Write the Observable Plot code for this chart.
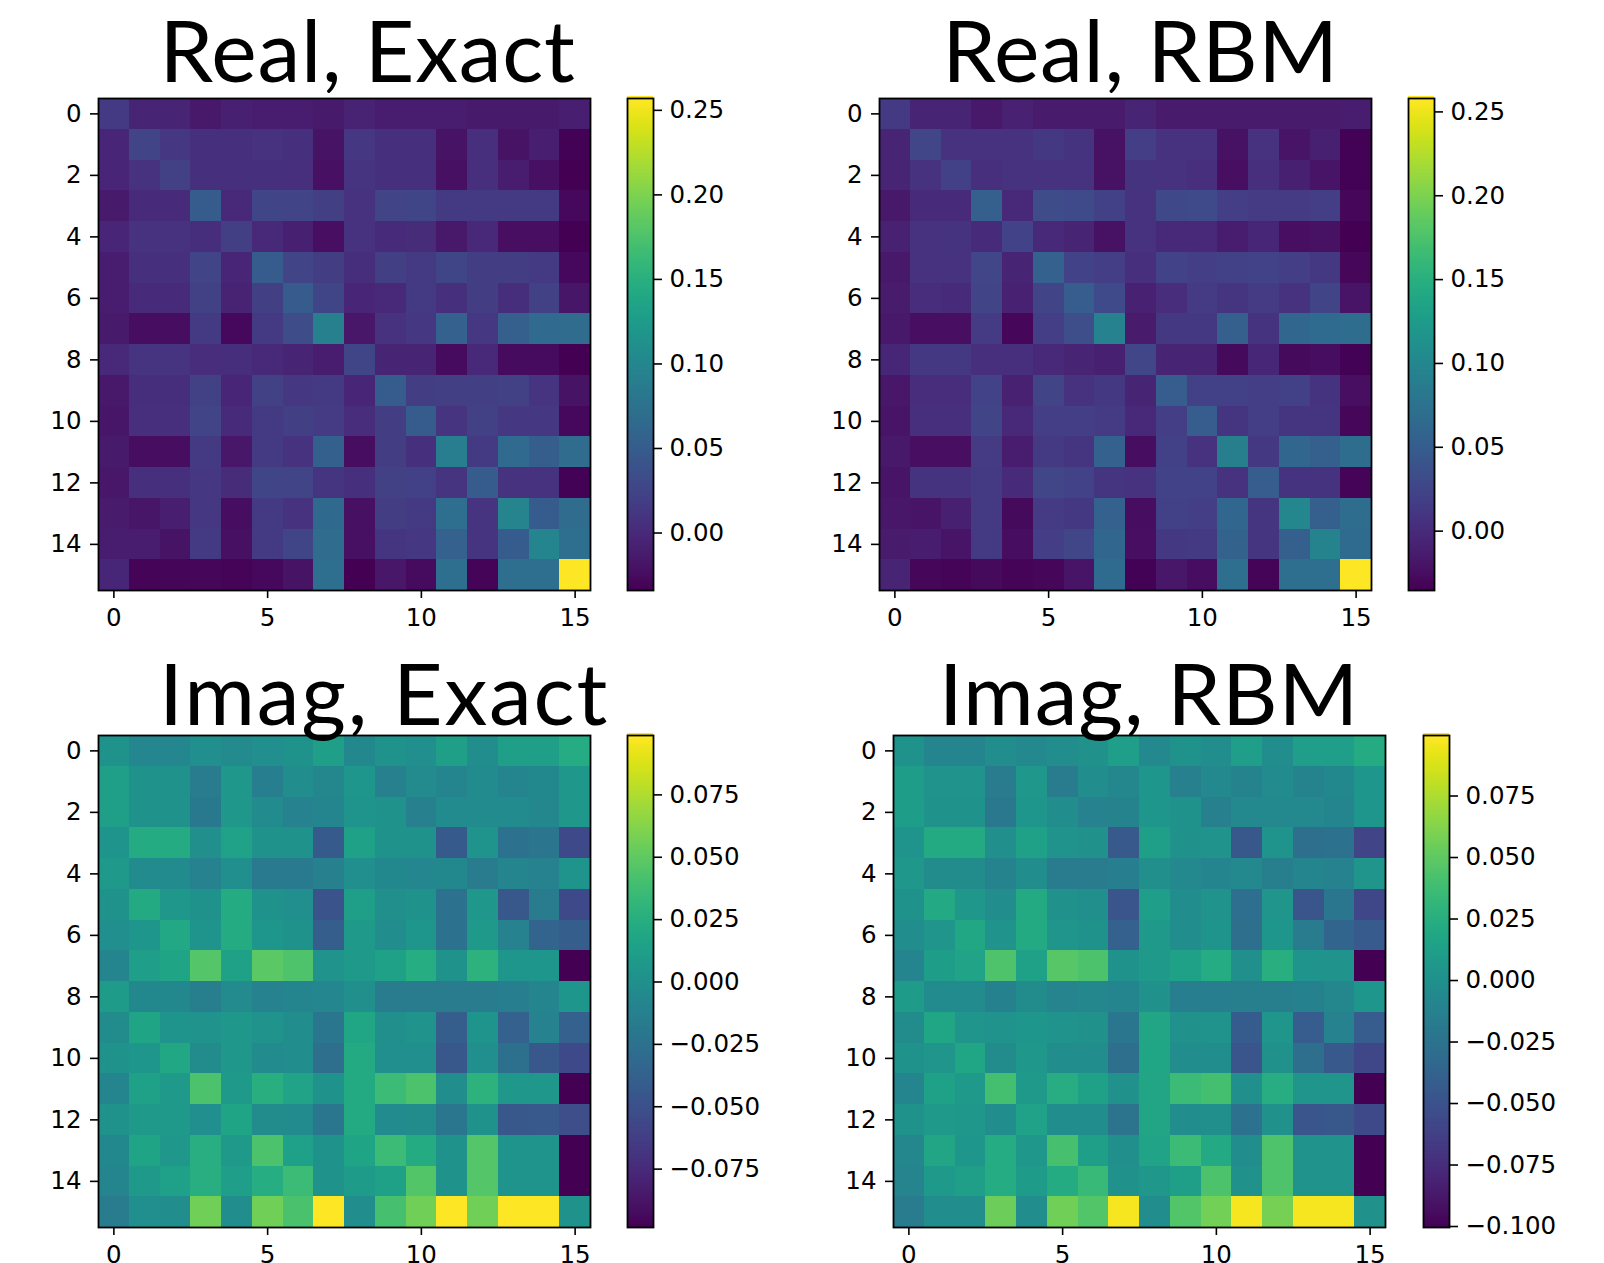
<!DOCTYPE html>
<html><head><meta charset="utf-8">
<script src="https://cdn.jsdelivr.net/npm/d3@7"></script>
<script src="https://cdn.jsdelivr.net/npm/@observablehq/plot@0.6"></script>
<style>
html,body{margin:0;padding:0;background:#fff}
#page{position:relative;width:1604px;height:1263px;overflow:hidden;background:#fff}
.p{position:absolute}
.p svg{display:block;background:none;overflow:visible}
.t{position:absolute;left:0;top:0;width:1604px;overflow:hidden;pointer-events:none;z-index:5}
.t span{position:absolute;transform:translateX(-50%);font-family:Lato,sans-serif;font-weight:400;color:#000;white-space:nowrap;line-height:100px}
</style></head><body><div id="page"></div>
<script>
const titles = ["Real, Exact","Real, RBM","Imag, Exact","Imag, RBM"];
const xTicks = [0,5,10,15];
const yTicks = [0,2,4,6,8,10,12,14];
const realTicks = [0,0.05,0.10,0.15,0.20,0.25];
const imagTicksExact = [-0.075,-0.05,-0.025,0,0.025,0.05,0.075];
const imagTicksRbm = [-0.1,-0.075,-0.05,-0.025,0,0.025,0.05,0.075];
const realExactDomain = [-0.034,0.257];
const realRbmDomain = [-0.0354,0.258];
const imagExactDomain = [-0.0984,0.0988];
const imagRbmDomain = [-0.1004,0.0996];

const realExact = [
[.015,-.005,-.005,-.015,-.008,-.012,-.012,-.014,-.006,-.012,-.012,-.012,-.014,-.014,-.014,-.010],
[-.004,.025,.012,.006,.006,.008,.006,-.020,.012,.006,.006,-.020,.005,-.020,-.010,-.032],
[-.004,.008,.022,.006,.006,.006,.005,-.022,.010,.006,.006,-.022,.005,-.012,-.022,-.033],
[-.014,.001,.001,.050,.000,.026,.024,.020,.008,.024,.026,.016,.016,.016,.016,-.028],
[-.004,.008,.008,.004,.020,-.002,-.008,-.023,.008,.001,.002,-.015,.000,-.023,-.023,-.034],
[-.012,.006,.006,.024,-.004,.050,.024,.018,.004,.020,.014,.026,.018,.018,.016,-.028],
[-.011,.001,.001,.022,-.006,.020,.048,.026,-.004,-.001,.016,.006,.018,.004,.022,-.018],
[-.014,-.024,-.024,.014,-.028,.014,.032,.092,-.016,.008,.012,.055,.012,.053,.065,.068],
[-.002,.010,.010,.003,.004,-.001,-.005,-.012,.026,-.005,-.005,-.026,-.002,-.026,-.026,-.034],
[-.015,.004,.004,.022,-.004,.022,.012,.014,-.004,.050,.018,.020,.020,.022,.010,-.020],
[-.018,.005,.005,.024,.001,.016,.020,.017,.003,.018,.050,.010,.022,.012,.012,-.028],
[-.014,-.024,-.024,.014,-.016,.014,.008,.054,-.024,.018,.006,.088,.014,.065,.052,.068],
[-.016,.006,.006,.012,.002,.026,.024,.011,.006,.022,.021,.010,.050,.008,.008,-.032],
[-.013,-.018,-.010,.012,-.024,.016,.008,.064,-.022,.018,.014,.070,.010,.097,.050,.068],
[-.011,-.012,-.020,.014,-.022,.015,.026,.068,-.022,.011,.012,.055,.010,.050,.098,.070],
[-.003,-.031,-.030,-.029,-.031,-.028,-.020,.070,-.033,-.016,-.026,.070,-.031,.070,.070,.257]
];
const realRbm = [
[.014,-.006,-.006,-.016,-.008,-.014,-.014,-.014,-.006,-.014,-.014,-.014,-.014,-.014,-.014,-.012],
[-.006,.026,.006,.006,.006,.012,.008,-.022,.018,.006,.006,-.022,.006,-.020,-.010,-.034],
[-.006,.006,.020,.004,.006,.006,.006,-.022,.008,.006,.004,-.024,.004,-.010,-.020,-.034],
[-.016,.000,.000,.052,-.002,.032,.030,.020,.006,.028,.030,.018,.016,.016,.018,-.030],
[-.008,.006,.008,.000,.022,-.002,-.006,-.022,.006,-.002,-.002,-.012,-.004,-.024,-.022,-.035],
[-.017,.006,.006,.026,-.006,.054,.022,.018,.004,.022,.018,.020,.022,.018,.012,-.030],
[-.014,.002,.000,.024,-.008,.024,.050,.030,-.008,.002,.016,.010,.016,.006,.024,-.020],
[-.016,-.024,-.024,.016,-.030,.018,.034,.094,-.014,.012,.012,.052,.008,.062,.066,.068],
[-.004,.012,.012,.004,.004,-.002,-.006,-.010,.026,-.006,-.006,-.028,-.004,-.028,-.026,-.034],
[-.018,.002,.002,.022,-.008,.024,.006,.012,-.006,.050,.020,.020,.018,.020,.008,-.024],
[-.020,.004,.004,.024,-.002,.018,.018,.016,-.002,.018,.050,.010,.018,.010,.010,-.030],
[-.016,-.024,-.024,.016,-.012,.014,.010,.054,-.026,.020,.006,.090,.012,.060,.052,.068],
[-.020,.008,.008,.014,.000,.026,.022,.010,.006,.022,.022,.006,.050,.008,.008,-.032],
[-.018,-.020,-.010,.014,-.028,.016,.012,.054,-.026,.020,.018,.062,.010,.100,.052,.068],
[-.014,-.012,-.020,.014,-.026,.018,.026,.062,-.024,.012,.014,.056,.010,.052,.096,.066],
[-.006,-.030,-.032,-.028,-.032,-.030,-.020,.066,-.034,-.018,-.026,.070,-.032,.070,.070,.258]
];
const imagExact = [
[.002,-.008,-.008,-.001,-.005,-.001,.001,.012,-.006,.002,-.001,.012,-.002,.012,.012,.023],
[.012,.002,.002,-.017,.006,-.015,-.002,-.007,.005,-.013,-.005,-.009,-.004,-.009,-.006,.006],
[.012,.001,.001,-.019,.006,-.004,-.011,-.009,.004,.001,-.013,-.004,-.004,-.004,-.007,.006],
[.004,.022,.022,.000,.015,.002,.001,-.043,.014,.001,.001,-.043,.004,-.025,-.022,-.055],
[.008,-.004,-.004,-.012,-.001,-.018,-.018,-.013,-.001,-.006,-.008,-.006,-.017,-.009,-.011,.004],
[.002,.021,.007,.001,.022,.001,-.001,-.048,.012,.000,.001,-.024,.006,-.045,-.017,-.055],
[-.001,.005,.020,.004,.022,.005,.001,-.040,.008,-.002,.005,-.024,.008,-.012,-.036,-.040],
[-.009,.011,.017,.046,.014,.048,.044,.003,.008,.014,.024,.001,.028,.005,.005,-.098],
[.010,-.006,-.006,-.014,-.005,-.011,-.009,-.008,.000,-.017,-.017,-.017,-.017,-.015,-.009,.005],
[-.003,.017,.004,.003,.007,.003,-.002,-.021,.018,.000,.003,-.040,.004,-.038,-.012,-.038],
[.001,.005,.019,-.003,.007,-.004,-.002,-.027,.021,-.001,-.001,-.045,-.001,-.026,-.045,-.055],
[-.009,.014,.008,.043,.008,.026,.016,.001,.021,.036,.043,-.002,.028,.006,.006,-.098],
[.002,.008,.008,-.001,.017,-.003,-.004,-.021,.021,-.004,-.003,-.021,.001,-.045,-.044,-.052],
[-.006,.017,.007,.025,.008,.043,.013,.001,.017,.036,.022,.001,.046,.004,.004,-.098],
[-.009,.008,.013,.025,.011,.024,.036,.001,.010,.014,.045,.001,.046,.004,.004,-.098],
[-.017,-.001,-.002,.056,-.002,.056,.042,.099,-.002,.041,.056,.099,.056,.099,.099,.002]
];
const imagRbm = [
[.001,-.009,-.009,-.003,-.006,-.002,.000,.011,-.006,.001,-.002,.011,-.003,.011,.011,.022],
[.010,.002,.002,-.018,.006,-.017,-.003,-.008,.005,-.014,-.006,-.011,-.005,-.011,-.007,.005],
[.010,.001,.001,-.020,.005,-.003,-.012,-.011,.005,.001,-.014,-.006,-.006,-.006,-.009,.005],
[.003,.021,.021,-.001,.013,.002,.000,-.045,.012,.000,.002,-.046,.003,-.028,-.025,-.060],
[.006,-.004,-.004,-.011,-.002,-.018,-.018,-.016,-.001,-.006,-.009,-.006,-.015,-.009,-.012,.004],
[.001,.020,.006,-.002,.021,.000,-.001,-.048,.011,-.002,.002,-.029,.004,-.048,-.022,-.058],
[-.002,.004,.019,.002,.021,.004,.001,-.039,.008,-.002,.003,-.028,.005,-.017,-.036,-.044],
[-.009,.010,.016,.044,.014,.047,.043,.001,.007,.013,.023,-.001,.026,.003,.002,-.100],
[.009,-.005,-.005,-.013,-.004,-.010,-.008,-.009,.000,-.016,-.016,-.015,-.015,-.013,-.008,.005],
[-.004,.018,.004,.002,.005,.002,.000,-.022,.017,.000,.002,-.043,.004,-.042,-.012,-.042],
[.001,.004,.018,-.004,.006,-.003,-.002,-.028,.018,-.003,-.002,-.048,.000,-.028,-.045,-.058],
[-.009,.014,.007,.040,.007,.024,.014,.000,.017,.036,.040,-.001,.024,.004,.004,-.100],
[.001,.007,.006,-.003,.015,-.002,-.002,-.024,.017,-.002,-.001,-.026,.000,-.048,-.046,-.056],
[-.008,.017,.005,.023,.006,.041,.012,-.001,.016,.036,.020,-.002,.044,.002,.002,-.100],
[-.010,.007,.012,.023,.009,.022,.034,.000,.006,.012,.043,.000,.044,.002,.002,-.100],
[-.018,-.002,-.002,.055,-.003,.056,.045,.097,-.002,.045,.057,.097,.058,.097,.097,.000]
];

const page = document.getElementById("page");
const fontSize = 24.5;
const SIZE = 492;
const ML = 70, MT = 14, MB = 36;

function cells(m){
  const out = [];
  m.forEach((row,i)=>row.forEach((v,j)=>out.push({row:i,col:j,value:v})));
  return out;
}
function place(el,left,top){
  const d = document.createElement("div");
  d.className = "p";
  d.style.left = left+"px"; d.style.top = top+"px";
  d.appendChild(el); page.appendChild(d);
}
function heat(m,domain,x0,y0){
  const el = Plot.plot({
    width: ML+SIZE+12, height: MT+SIZE+MB,
    marginLeft: ML, marginRight: 12, marginTop: MT, marginBottom: MB,
    style:{fontFamily:"DejaVu Sans",fontSize:fontSize+"px",color:"#000",background:"none"},
    x:{type:"band",domain:d3.range(16),padding:0,round:false,axis:null},
    y:{type:"band",domain:d3.range(16),padding:0,round:false,axis:null},
    color:{type:"linear",scheme:"viridis",domain},
    marks:[
      Plot.cell(cells(m),{x:"col",y:"row",fill:"value",inset:0,shapeRendering:"crispEdges"}),
      Plot.axisX({ticks:xTicks,tickFormat:d=>d,tickSize:8,tickPadding:10,fontSize,stroke:"#000",strokeWidth:1.6,label:null,anchor:"bottom"}),
      Plot.axisY({ticks:yTicks,tickFormat:d=>d,tickSize:8,tickPadding:9,fontSize,stroke:"#000",strokeWidth:1.6,label:null,anchor:"left"}),
      Plot.frame({stroke:"#000",strokeWidth:1.8})
    ]
  });
  place(el,x0-ML,y0-MT);
}
function bar(domain,ticks,fmt,x0,y0){
  const W = 26;
  const el = Plot.plot({
    width: 4+W+136, height: MT+SIZE+MB,
    marginLeft: 4, marginRight: 136, marginTop: MT, marginBottom: MB,
    style:{fontFamily:"DejaVu Sans",fontSize:fontSize+"px",color:"#000",background:"none"},
    x:{domain:[0,1],axis:null},
    y:{domain,axis:null},
    color:{type:"linear",scheme:"viridis",domain},
    marks:[
      Plot.raster({fill:(x,y)=>y,x1:0,x2:1,y1:domain[0],y2:domain[1],imageRendering:"auto"}),
      Plot.ruleY([domain[1]],{stroke:"#fde725",strokeWidth:2,dy:-1.5}),
      Plot.axisY({anchor:"right",ticks,tickFormat:fmt,tickSize:8,tickPadding:8,fontSize,stroke:"#000",strokeWidth:1.6,label:null}),
      Plot.frame({stroke:"#000",strokeWidth:1.8})
    ]
  });
  place(el,x0-4,y0-MT);
}
function title(text,cx,baseline,spacing,clipBottom){
  const wrap = document.createElement("div");
  wrap.className = "t";
  wrap.style.height = (clipBottom||1263)+"px";
  const s = document.createElement("span");
  s.textContent = text;
  s.style.left = cx+"px";
  s.style.fontSize = "86px";
  s.style.letterSpacing = spacing+"px";
  s.style.top = (baseline-83.3)+"px";
  wrap.appendChild(s); page.appendChild(wrap);
}

const f2 = d3.format(".2f"), f3 = d3.format(".3f");
const rowTop = 98, rowBot = 734.5;
heat(realExact,realExactDomain,98,rowTop);
bar(realExactDomain,realTicks,f2,627,rowTop);
heat(realRbm,realRbmDomain,879,rowTop);
bar(realRbmDomain,realTicks,f2,1408,rowTop);
heat(imagExact,imagExactDomain,98,rowBot);
bar(imagExactDomain,imagTicksExact,f3,627,rowBot);
heat(imagRbm,imagRbmDomain,893,rowBot);
bar(imagRbmDomain,imagTicksRbm,f3,1423,rowBot);

title(titles[0],367.5,82,0.7,93);
title(titles[1],1140.5,82,0.7,93);
title(titles[2],384,725,1.8);
title(titles[3],1149,725,0.9);
</script></body></html>
